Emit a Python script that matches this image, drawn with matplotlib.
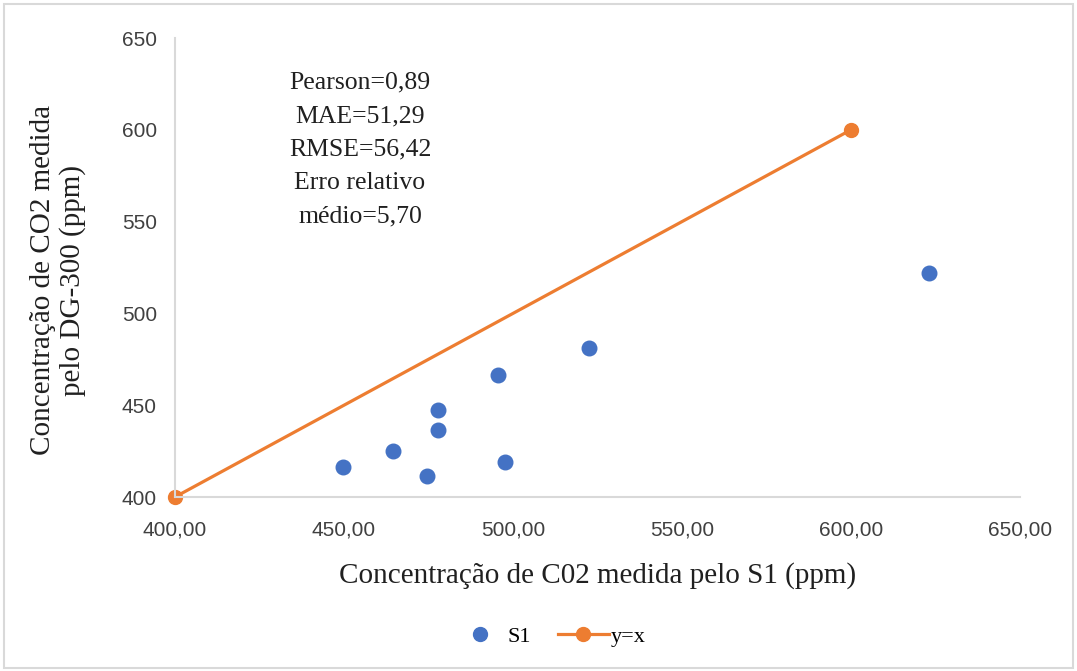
import matplotlib
matplotlib.use("Agg")
import matplotlib.pyplot as plt
from matplotlib.lines import Line2D
from matplotlib.patches import Rectangle

# Data
s1_x = [449.7, 464.5, 474.6, 477.8, 477.8, 495.6, 497.6, 522.5, 623.1]
s1_y = [416.3, 425.0, 411.4, 447.4, 436.5, 466.4, 419.0, 481.2, 522.0]
ref_x = [400, 600]
ref_y = [400, 600]
x_ticks = [400, 450, 500, 550, 600, 650]
y_ticks = [400, 450, 500, 550, 600, 650]
x_tick_labels = ["400,00", "450,00", "500,00", "550,00", "600,00", "650,00"]
y_tick_labels = ["400", "450", "500", "550", "600", "650"]
stats_text = "Pearson=0,89\nMAE=51,29\nRMSE=56,42\nErro relativo\nmédio=5,70"

BLUE = "#4472C4"
ORANGE = "#ED7D31"
GRID = "#D9D9D9"
TEXT = "#404040"
serif = ["Liberation Serif", "DejaVu Serif"]
sans = ["Liberation Sans Narrow", "Liberation Sans", "DejaVu Sans"]

fig = plt.figure(figsize=(10.77, 6.71), dpi=100)
fig.patches.append(Rectangle((0.004, 0.004), 0.992, 0.99, transform=fig.transFigure,
                             fill=False, edgecolor=GRID, linewidth=1.5))
ax = fig.add_axes([175/1077, 1-497/671, (1020-175)/1077, (497-38)/671])

ax.plot(ref_x, ref_y, color=ORANGE, linewidth=2.3, marker="o", markersize=10,
        zorder=2, clip_on=False)
ax.scatter(s1_x, s1_y, s=110, color=BLUE, zorder=3, clip_on=False)

ax.set_xlim(400, 650)
ax.set_ylim(400, 650)
ax.set_xticks(x_ticks)
ax.set_xticklabels(x_tick_labels, family=sans, fontsize=15, color=TEXT)
ax.set_yticks(y_ticks)
ax.set_yticklabels(y_tick_labels, family=sans, fontsize=15, color=TEXT)
ax.tick_params(axis="x", length=0, pad=17)
ax.tick_params(axis="y", length=0, pad=13)
for s in ["top", "right"]:
    ax.spines[s].set_visible(False)
for s in ["left", "bottom"]:
    ax.spines[s].set_color(GRID)
    ax.spines[s].set_linewidth(1.5)

ax.set_xlabel("Concentração de C02 medida pelo S1 (ppm)", family=serif,
              fontsize=21, color="#202020", labelpad=16)
ax.set_ylabel("Concentração de CO2 medida\npelo DG-300 (ppm)", family=serif,
              fontsize=21, color="#202020", labelpad=26, linespacing=1.15)
ax.yaxis.label.set_y((497 - 280) / 459)

ax.text(0.219, 0.927, stats_text, transform=ax.transAxes, ha="center", va="top",
        family=serif, fontsize=18.5, color="#202020", linespacing=1.68)

handles = [Line2D([], [], linestyle="none", marker="o", color=BLUE, markersize=10),
           Line2D([], [], color=ORANGE, linewidth=2.3, marker="o", markersize=10)]
leg = fig.legend(handles, ["S1", "y=x"], loc="center", bbox_to_anchor=(550/1077, 1-637/671),
                 ncol=2, frameon=False, prop={"family": serif, "size": 16},
                 handlelength=2.3, columnspacing=1.2, handletextpad=0.1)

fig.savefig("out.png", dpi=100)
